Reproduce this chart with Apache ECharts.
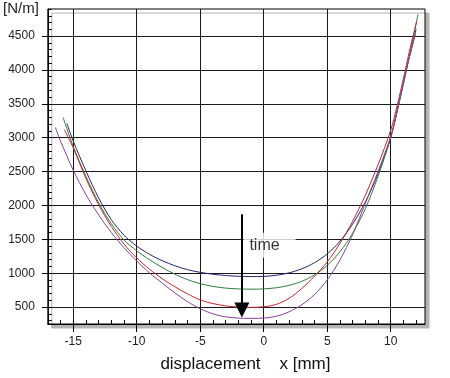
<!DOCTYPE html>
<html>
<head>
<meta charset="utf-8">
<script src="https://cdn.jsdelivr.net/npm/echarts@6/dist/echarts.min.js"></script>
<style>
html,body{margin:0;padding:0;background:#fff;}
#chart{width:450px;height:378px;}
</style>
</head>
<body>
<div id="chart"></div>
<script>
// ---- data ----
const xNavy = [-15.5,-15,-14,-13,-12,-11,-10,-9,-8,-7,-6,-5,-4,-3,-2,-1,0,1,2,3,4,5,6,7,8,9,10,10.6,11.2,12];
const yNavy = [3210,2950,2510,2110,1790,1560,1400,1280,1185,1110,1052,1012,985,966,955,950,953,970,1005,1065,1155,1285,1470,1725,2050,2470,3000,3470,3980,4600];

const xGreen = [-15.8,-15,-14,-13,-12,-11,-10,-9,-8,-7,-6,-5,-4,-3,-2,-1,0,1,2,3,4,5,6,7,8,9,10,10.6,11.2,12.15];
const yGreen = [3300,2870,2430,2040,1730,1490,1330,1200,1085,985,905,845,805,780,768,764,768,785,820,880,975,1115,1315,1590,1950,2430,3000,3460,3960,4820];

const xRed = [-15.7,-15,-14,-13,-12,-11,-10,-9,-8,-7,-6,-5,-4,-3,-2,-1,0,1,2,3,4,5,6,7,8,9,10,10.5,11,11.5,12.05];
const yRed = [3120,2850,2400,2010,1690,1430,1225,1060,920,800,695,605,552,518,500,495,504,540,630,775,955,1165,1440,1765,2150,2600,3110,3470,3870,4300,4720];

const xPurple = [-16.4,-16,-15,-14,-13,-12,-11,-10,-9,-8,-7,-6,-5,-4,-3,-2,-1,0,1,2,3,4,5,6,7,8,9,10,10.6,11.2,11.95];
const yPurple = [3150,2950,2520,2160,1860,1600,1375,1180,1005,855,710,580,475,400,356,337,333,338,365,430,535,685,900,1195,1570,2030,2500,3020,3480,3990,4530];

const xMajorTicks = [-15,-10,-5,0,5,10];
const xMinorTicks = [-17,-16,-15,-14,-13,-12,-11,-10,-9,-8,-7,-6,-5,-4,-3,-2,-1,0,1,2,3,4,5,6,7,8,9,10,11,12];
const yMajorTicks = [500,1000,1500,2000,2500,3000,3500,4000,4500];
const yMinorTicks = [300,400,500,600,700,800,900,1000,1100,1200,1300,1400,1500,1600,1700,1800,1900,2000,2100,2200,2300,2400,2500,2600,2700,2800,2900,3000,3100,3200,3300,3400,3500,3600,3700,3800,3900,4000,4100,4200,4300,4400,4500,4600,4700,4800,4900];

// annotation: arrow labelled "time" (data coordinates)
const arrowX = -1.72;
const arrowFrom = 1870;
const arrowTo = 455;
const timeLabelPoint = [-1.6, 1413];

const X_MIN = -17, X_MAX = 12.7, Y_MIN = 250, Y_MAX = 4900;

function pairs(xs, ys){ return xs.map((x,i)=>[x, ys[i]]); }

const FONT = "'Liberation Sans', Arial, sans-serif";

const chart = echarts.init(document.getElementById('chart'), null, {renderer:'canvas'});

function lineSeries(name, xs, ys, color){
  return {
    name, type:'line', xAxisIndex:0, yAxisIndex:0,
    data: pairs(xs, ys), smooth: 0.3, showSymbol:false, symbol:'none',
    lineStyle:{color, width:1}, z:3, silent:true
  };
}

const plain = v => String(v);

const option = {
  animation:false,
  backgroundColor:'#fff',
  grid:{
    left:47, right:25, top:9, bottom:53,
    show:true, backgroundColor:'#fff', borderColor:'#000', borderWidth:1,
    shadowColor:'#b4b4b4', shadowOffsetX:4, shadowOffsetY:4, shadowBlur:0
  },
  xAxis:[
    {
      type:'value', min:X_MIN, max:X_MAX, position:'bottom',
      axisLine:{show:true, onZero:false, lineStyle:{color:'#000', width:1}},
      axisTick:{show:true, inside:false, length:8, customValues:xMajorTicks, lineStyle:{color:'#000'}},
      axisLabel:{show:true, customValues:xMajorTicks, formatter:plain, margin:12, fontSize:12, color:'#222', fontFamily:FONT},
      splitLine:{show:true, lineStyle:{color:'#1a1a1a', width:1}},
      name:'displacement    x [mm]', nameLocation:'middle', nameGap:32,
      nameTextStyle:{fontSize:17, color:'#111', fontFamily:FONT, padding:[0,0,0,18]}
    },
    {
      type:'value', min:X_MIN, max:X_MAX, position:'bottom',
      axisLine:{show:false, onZero:false},
      axisTick:{show:true, inside:true, length:4, customValues:xMinorTicks, lineStyle:{color:'#000'}},
      axisLabel:{show:false},
      splitLine:{show:false}
    }
  ],
  yAxis:[
    {
      type:'value', min:Y_MIN, max:Y_MAX, position:'left',
      axisLine:{show:true, onZero:false, lineStyle:{color:'#000', width:1}},
      axisTick:{show:true, inside:false, length:6, customValues:yMajorTicks, lineStyle:{color:'#000'}},
      axisLabel:{show:true, customValues:yMajorTicks, formatter:plain, margin:13, fontSize:12, color:'#222', fontFamily:FONT},
      splitLine:{show:true, lineStyle:{color:'#1a1a1a', width:1}},
      name:'[N/m]', nameLocation:'end', nameGap:0,
      nameTextStyle:{fontSize:15, color:'#222', fontFamily:FONT, align:'right', verticalAlign:'middle', padding:[0,9,0,0]}
    },
    {
      type:'value', min:Y_MIN, max:Y_MAX, position:'left',
      axisLine:{show:false, onZero:false},
      axisTick:{show:true, inside:true, length:4, customValues:yMinorTicks, lineStyle:{color:'#000'}},
      axisLabel:{show:false},
      splitLine:{show:false}
    }
  ],
  series:[
    lineSeries('navy', xNavy, yNavy, '#24246e'),
    lineSeries('green', xGreen, yGreen, '#2f7d3b'),
    lineSeries('red', xRed, yRed, '#c3262b'),
    lineSeries('purple', xPurple, yPurple, '#8b3f9c'),
    {
      name:'annotation', type:'scatter', xAxisIndex:0, yAxisIndex:0,
      data:[timeLabelPoint], symbolSize:0, silent:true, z:5,
      label:{
        show:true, formatter:'time', position:'right', distance:0,
        fontSize:16, color:'#000', fontFamily:FONT,
        backgroundColor:'#fff', padding:[5,16,4,6], lineHeight:16
      },
      markLine:{
        silent:true, animation:false,
        symbol:['none','triangle'], symbolSize:15,
        lineStyle:{color:'#000', width:2, type:'solid'},
        itemStyle:{color:'#000'},
        label:{show:false},
        data:[[{coord:[arrowX, arrowFrom]},{coord:[arrowX, arrowTo]}]]
      }
    }
  ]
};
chart.setOption(option);
</script>
</body>
</html>
